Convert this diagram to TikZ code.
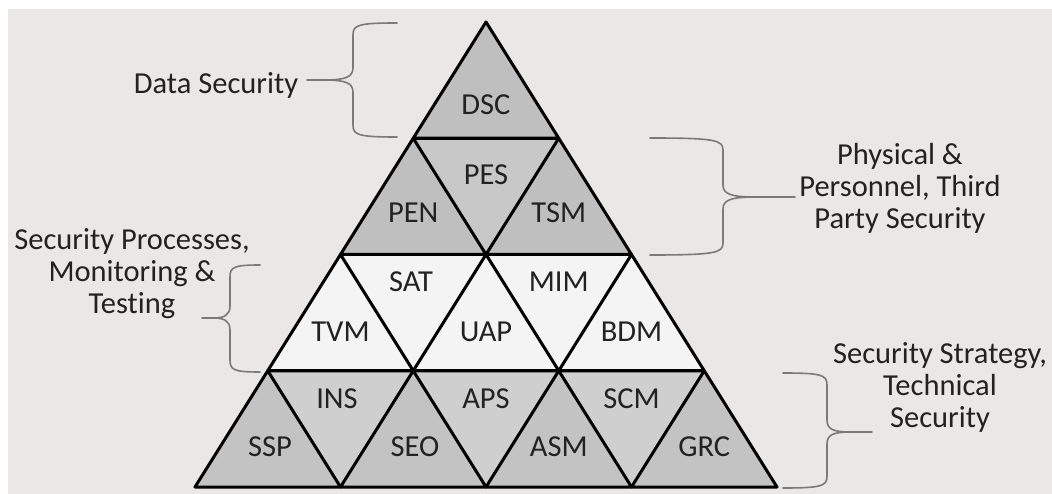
\documentclass[tikz,border=0pt]{standalone}
\usepackage{fontspec}
\setmainfont{Carlito}[Ligatures=NoCommon]
\definecolor{pagebg}{HTML}{E9E8E6}
\definecolor{inkgrey}{HTML}{222222}
\definecolor{bracegrey}{HTML}{7A7A7A}
\definecolor{upgrey}{HTML}{BFBFBF}
\definecolor{downgrey}{HTML}{C8C8C8}
\definecolor{lowupgrey}{HTML}{C3C3C3}
\definecolor{lowdowngrey}{HTML}{CFCFCF}
\definecolor{palecell}{HTML}{F4F4F4}
\tikzset{
  cellline/.style={draw=black, line width=3pt, line join=round},
  celltext/.style={text=inkgrey, font=\fontsize{30.5}{32}\selectfont, inner sep=0pt, anchor=center},
  sidetext/.style={text=inkgrey, font=\fontsize{30.5}{32}\selectfont, align=center, inner sep=0pt, anchor=center},
  braceline/.style={draw=bracegrey, line width=1.6pt, line cap=round, line join=round},
}
\begin{document}
\begin{tikzpicture}[x=1pt, y=-1pt]
\useasboundingbox (0,0) rectangle (1052,494);
\fill[white] (0,0) rectangle (1052,494);
\fill[pagebg] (8,9) rectangle (1052,494);

% pyramid geometry: apex (486,22), half cell width 72.75, row height 116.25
\def\hw{72.75}
\def\rh{116.25}
% upward cells: row, index, colour
\foreach \r/\j/\c in {0/0/upgrey,
                      1/0/upgrey, 1/1/upgrey,
                      2/0/palecell, 2/1/palecell, 2/2/palecell,
                      3/0/lowupgrey, 3/1/lowupgrey, 3/2/lowupgrey, 3/3/lowupgrey} {
  \fill[\c] ({486-(\r+1)*\hw+\j*2*\hw},{22+(\r+1)*\rh})
         -- ({486-(\r-1)*\hw+\j*2*\hw},{22+(\r+1)*\rh})
         -- ({486-\r*\hw+\j*2*\hw},{22+\r*\rh}) -- cycle;
}
% downward cells
\foreach \r/\j/\c in {1/0/downgrey,
                      2/0/palecell, 2/1/palecell,
                      3/0/lowdowngrey, 3/1/lowdowngrey, 3/2/lowdowngrey} {
  \fill[\c] ({486-\r*\hw+\j*2*\hw},{22+\r*\rh})
         -- ({486-(\r-2)*\hw+\j*2*\hw},{22+\r*\rh})
         -- ({486-(\r-1)*\hw+\j*2*\hw},{22+(\r+1)*\rh}) -- cycle;
}
% outlines of all upward cells cover every edge of the grid
\foreach \r/\j in {0/0, 1/0, 1/1, 2/0, 2/1, 2/2, 3/0, 3/1, 3/2, 3/3} {
  \draw[cellline] ({486-(\r+1)*\hw+\j*2*\hw},{22+(\r+1)*\rh})
         -- ({486-(\r-1)*\hw+\j*2*\hw},{22+(\r+1)*\rh})
         -- ({486-\r*\hw+\j*2*\hw},{22+\r*\rh}) -- cycle;
}
\draw[cellline] (413.25,138.25) -- (558.75,138.25);
\draw[cellline] (340.5,254.5) -- (631.5,254.5);
\draw[cellline] (267.75,370.75) -- (704.25,370.75);

% cell labels
\node[celltext] (DSC) at (486,105) {DSC};
\node[celltext] (PEN) at (413.25,213) {PEN};
\node[celltext] (PES) at (486,175) {PES};
\node[celltext] (TSM) at (558.75,213) {TSM};
\node[celltext] (TVM) at (340.5,332) {TVM};
\node[celltext] (SAT) at (411,282) {SAT};
\node[celltext] (UAP) at (486,332) {UAP};
\node[celltext] (MIM) at (558.75,282) {MIM};
\node[celltext] (BDM) at (631.5,332) {BDM};
\node[celltext] (SSP) at (270,447) {SSP};
\node[celltext] (INS) at (337,399) {INS};
\node[celltext] (SEO) at (415,447) {SEO};
\node[celltext] (APS) at (486,399) {APS};
\node[celltext] (ASM) at (558.75,447) {ASM};
\node[celltext] (SCM) at (631.5,399) {SCM};
\node[celltext] (GRC) at (704.25,447) {GRC};

% side labels
\node[sidetext] (dataSec) at (216,85) {Data Security};
\node[sidetext] (physSec) at (900,188) {Physical \&\\Personnel, Third\\Party Security};
\node[sidetext] (procSec) at (132,274) {Security Processes,\\Monitoring \&\\Testing};
\node[sidetext] (stratSec) at (940,387) {Security Strategy,\\Technical\\Security};

% braces
\draw[braceline] (397,23) .. controls (358,23) and (353,25) .. (353,35) -- (353,68)
  .. controls (353,77) and (345,80) .. (325,80) -- (307,80);
\draw[braceline] (397,137) .. controls (358,137) and (353,135) .. (353,125) -- (353,92)
  .. controls (353,83) and (345,80) .. (325,80);

\draw[braceline] (650,138) .. controls (715,138) and (723,140) .. (723,150) -- (723,185)
  .. controls (723,194) and (731,197) .. (755,197) -- (795,197);
\draw[braceline] (650,255) .. controls (715,255) and (723,253) .. (723,243) -- (723,209)
  .. controls (723,200) and (731,197) .. (755,197);

\draw[braceline] (260,265) .. controls (234,265) and (230,267) .. (230,277) -- (230,306)
  .. controls (230,315) and (224,318) .. (214,318) -- (202,318);
\draw[braceline] (260,372) .. controls (234,372) and (230,370) .. (230,360) -- (230,330)
  .. controls (230,321) and (224,318) .. (214,318);

\draw[braceline] (783,373) .. controls (822,373) and (827,375) .. (827,385) -- (827,420)
  .. controls (827,429) and (833,432) .. (850,432) -- (872,432);
\draw[braceline] (783,488) .. controls (822,488) and (827,486) .. (827,476) -- (827,444)
  .. controls (827,435) and (833,432) .. (850,432);
\end{tikzpicture}
\end{document}
